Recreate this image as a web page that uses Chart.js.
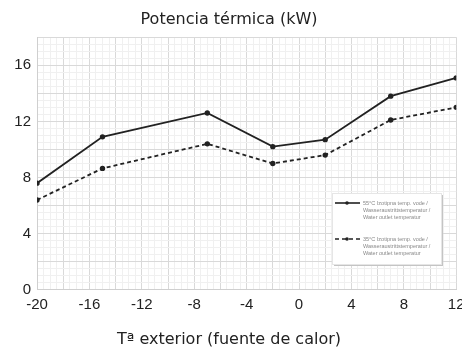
<!DOCTYPE html>
<html>
<head>
<meta charset="utf-8">
<script src="https://cdn.jsdelivr.net/npm/chart.js@4"></script>
<style>
  html, body { margin: 0; padding: 0; background: #fff; }
  #wrap { width: 462px; height: 349px; }
</style>
</head>
<body>
<div id="wrap"><canvas id="chart" width="462" height="349"></canvas></div>
<script>
// --- Data ---
const tempExterior = [-20, -15, -7, -2, 2, 7, 12];
const potencia55 = [7.6, 10.9, 12.6, 10.2, 10.7, 13.8, 15.1];
const potencia35 = [6.4, 8.65, 10.4, 9.0, 9.6, 12.1, 13.0];
const legend55 = ['55°C Izotipna temp. vode /', 'Wasseraustrittstemperatur /', 'Water outlet temperatur'];
const legend35 = ['35°C Izotipna temp. vode /', 'Wasseraustrittstemperatur /', 'Water outlet temperatur'];
const xTicks = [-20, -16, -12, -8, -4, 0, 4, 8, 12];
const yTicks = [0, 4, 8, 12, 16];

const gridColor = ctx => {
  const v = ctx.tick ? ctx.tick.value : 0;
  return Math.abs(v % 2) < 1e-6 ? '#d9d9d9' : '#f0f0f0';
};

// legend box drawn inside the plot area
const boxLegend = {
  id: 'boxLegend',
  afterDraw(chart) {
    const c = chart.ctx;
    const x = 332, y = 193, w = 109, h = 71;
    c.save();
    c.fillStyle = '#c4c4c4';
    c.fillRect(x + 2, y + 2, w, h);
    c.fillStyle = '#fff';
    c.fillRect(x, y, w, h);
    c.strokeStyle = '#e6e6e6';
    c.lineWidth = 1;
    c.strokeRect(x + 0.5, y + 0.5, w, h);
    chart.data.datasets.forEach((ds, i) => {
      const ly = y + 10 + i * 36;
      c.strokeStyle = '#222';
      c.lineWidth = 1.6;
      c.setLineDash(ds.borderDash || []);
      c.beginPath();
      c.moveTo(x + 3, ly);
      c.lineTo(x + 28, ly);
      c.stroke();
      c.setLineDash([]);
      c.fillStyle = '#222';
      c.beginPath();
      c.arc(x + 15, ly, 1.8, 0, Math.PI * 2);
      c.fill();
      c.fillStyle = '#888';
      c.font = '5.5px "Liberation Sans", Arial, sans-serif';
      c.textBaseline = 'middle';
      ds.legendLines.forEach((t, j) => c.fillText(t, x + 31, ly + j * 7));
    });
    c.restore();
  }
};

new Chart(document.getElementById('chart'), {
  type: 'line',
  data: {
    datasets: [
      {
        label: legend55.join(' '),
        legendLines: legend55,
        data: tempExterior.map((t, i) => ({ x: t, y: potencia55[i] })),
        borderColor: '#222',
        backgroundColor: '#222',
        borderWidth: 1.8,
        pointRadius: 1.8,
        tension: 0
      },
      {
        label: legend35.join(' '),
        legendLines: legend35,
        data: tempExterior.map((t, i) => ({ x: t, y: potencia35[i] })),
        borderColor: '#222',
        backgroundColor: '#222',
        borderWidth: 1.8,
        borderDash: [4, 3],
        pointRadius: 1.8,
        tension: 0
      }
    ]
  },
  options: {
    responsive: false,
    animation: false,
    layout: { padding: { left: 0, right: 4, top: 0, bottom: 0 } },
    plugins: {
      legend: { display: false },
      tooltip: { enabled: false },
      title: {
        display: true,
        text: 'Potencia térmica (kW)',
        color: '#222',
        font: { family: '"DejaVu Sans", sans-serif', size: 16, weight: 'normal' },
        padding: { top: 10, bottom: 8 }
      },
      subtitle: {
        display: true,
        position: 'bottom',
        text: 'Tª exterior (fuente de calor)',
        color: '#222',
        font: { family: '"DejaVu Sans", sans-serif', size: 16, weight: 'normal' },
        padding: { top: 10, bottom: 0 }
      }
    },
    scales: {
      x: {
        type: 'linear',
        min: -20,
        max: 12,
        afterBuildTicks: s => {
          const t = [];
          for (let v = -20; v <= 12; v += 0.5) t.push({ value: v });
          s.ticks = t;
        },
        afterFit: s => { s.paddingLeft = 0; s.paddingRight = 0; },
        ticks: {
          autoSkip: false,
          maxRotation: 0,
          padding: 6,
          color: '#222',
          font: { family: '"Liberation Sans", Arial, sans-serif', size: 15 },
          callback: v => xTicks.includes(v) ? String(v) : ''
        },
        grid: { color: gridColor, drawTicks: false },
        border: { color: '#cfcfcf' }
      },
      y: {
        min: 0,
        max: 18,
        afterBuildTicks: s => {
          const t = [];
          for (let v = 0; v <= 18; v += 0.5) t.push({ value: v });
          s.ticks = t;
        },
        afterFit: s => { s.width = 37; },
        ticks: {
          autoSkip: false,
          padding: 6,
          color: '#222',
          font: { family: '"Liberation Sans", Arial, sans-serif', size: 15 },
          callback: v => yTicks.includes(v) ? String(v) : ''
        },
        grid: { color: gridColor, drawTicks: false },
        border: { color: '#cfcfcf' }
      }
    }
  },
  plugins: [boxLegend]
});
</script>
</body>
</html>
